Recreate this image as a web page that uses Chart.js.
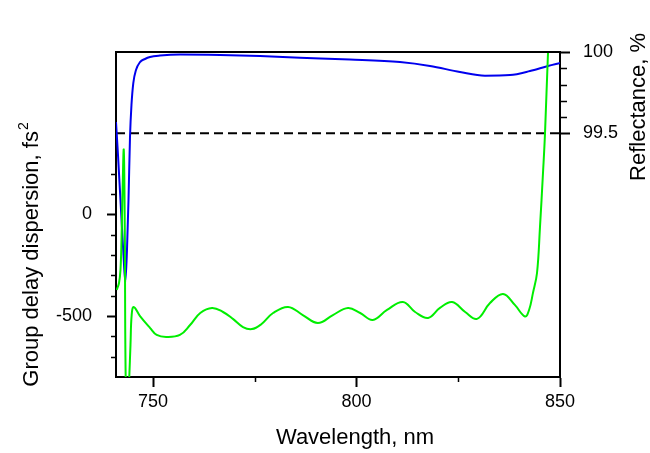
<!DOCTYPE html>
<html>
<head>
<meta charset="utf-8">
<script src="https://cdn.jsdelivr.net/npm/chart.js@4/dist/chart.umd.min.js"></script>
<style>
html,body{margin:0;padding:0;background:#fff;}
#wrap{width:650px;height:453px;}
</style>
</head>
<body>
<div id="wrap"><canvas id="c" width="650" height="453"></canvas></div>
<script>
// ---- data ----
const gddWavelength = [741.07, 741.64, 742.0, 742.25, 742.49, 742.81, 743.06, 743.28, 743.72, 744.16,
  744.46, 744.75, 745.25, 746.8, 749.3, 750.9, 753.2, 756.6, 759.1, 761.6,
  764.5, 767.2, 769.7, 772.1, 774.3, 776.6, 779.5, 783.2, 786.8, 790.5,
  794.2, 797.9, 800.9, 804.0, 807.5, 811.4, 814.4, 817.6, 820.5, 823.5,
  826.7, 829.6, 832.8, 836.0, 838.9, 841.4, 842.4, 843.36, 844.35, 845.08,
  845.82, 846.31, 847.05, 847.54];
const gddValues = [-372, -337, -273, -126, 96, 318, -76, -800, -1000, -800,
  -642, -495, -455, -500, -559, -593, -603, -593, -544, -485,
  -460, -480, -515, -554, -564, -540, -485, -455, -495, -534,
  -495, -460, -485, -519, -470, -431, -480, -509, -460, -431,
  -480, -514, -436, -391, -445, -502, -470, -386, -288, -62,
  204, 396, 795, 982];

const reflWavelength = [740.9, 741.39, 742.13, 742.74, 743.19, 743.6, 743.97, 744.34, 744.7, 745.15,
  745.81, 746.8, 748.02, 749.25, 751.71, 756.63, 766.45, 776.28, 786.11, 798.39,
  810.68, 818.05, 825.42, 831.56, 837.71, 842.63, 847.05, 850.0];
const reflValues = [99.569, 99.366, 99.028, 98.751, 98.585, 98.782, 99.089, 99.477, 99.674, 99.809,
  99.889, 99.938, 99.957, 99.969, 99.978, 99.985, 99.982, 99.975, 99.965, 99.954,
  99.938, 99.914, 99.877, 99.854, 99.858, 99.883, 99.914, 99.932];

const thresholdWavelength = [740.9, 850];
const thresholdValues = [99.5, 99.5];

const xRange = [740.9, 850];
const gddRange = [-800, 800];
const reflRange = [98, 100];

const xTickValues = [750, 775, 800, 825, 850];
const xTickLabels = ['750', '', '800', '', '850'];
const gddTickValues = [200, 100, 0, -100, -200, -300, -400, -500, -600, -700];
const gddTickLabels = ['', '', '0', '', '', '', '', '-500', '', ''];
const reflTickValues = [100, 99.9, 99.8, 99.7, 99.6, 99.5];
const reflTickLabels = ['100', '', '', '', '', '99.5'];

const xTitle = 'Wavelength, nm';
const gddTitleMain = 'Group delay dispersion, fs';
const gddTitleSup = '2';
const reflTitle = 'Reflectance, %';

// ---- helpers ----
const FONT = "'Liberation Sans', Arial, sans-serif";
const pts = (xs, ys) => xs.map((x, i) => ({x: x, y: ys[i]}));
const labelFor = (vals, labels) => (v) => {
  const i = vals.findIndex(t => Math.abs(t - v) < 1e-6);
  return i >= 0 ? labels[i] : '';
};
const isMajor = (vals, labels, v) => labelFor(vals, labels)(v) !== '';
const setTicks = (vals) => (scale) => { scale.ticks = vals.map(v => ({value: v})); };

const frameAndText = {
  id: 'frameAndText',
  afterDraw(chart) {
    const ctx = chart.ctx;
    const a = chart.chartArea;
    const sx = chart.scales.x, sy = chart.scales.y, sr = chart.scales.y2;
    ctx.save();
    ctx.strokeStyle = '#000';
    ctx.lineWidth = 2;
    ctx.beginPath();
    ctx.moveTo(a.left - 1, a.top);
    ctx.lineTo(a.right + 1, a.top);
    ctx.stroke();
    ctx.lineWidth = 1.5;
    ctx.beginPath();
    xTickValues.forEach((v, i) => {
      if (xTickLabels[i] === '') {
        const p = Math.round(sx.getPixelForValue(v)) + 0.5;
        ctx.moveTo(p, a.bottom); ctx.lineTo(p, a.bottom + 5);
      }
    });
    gddTickValues.forEach((v, i) => {
      if (gddTickLabels[i] === '') {
        const p = Math.round(sy.getPixelForValue(v)) + 0.5;
        ctx.moveTo(a.left, p); ctx.lineTo(a.left - 5, p);
      }
    });
    reflTickValues.forEach((v, i) => {
      if (reflTickLabels[i] === '') {
        const p = Math.round(sr.getPixelForValue(v)) + 0.5;
        ctx.moveTo(a.right, p); ctx.lineTo(a.right + 7, p);
      }
    });
    ctx.stroke();
    ctx.fillStyle = '#000';
    ctx.font = '22px ' + FONT;
    ctx.textBaseline = 'alphabetic';
    ctx.textAlign = 'center';
    ctx.fillText(xTitle, 355, 444);
    ctx.save();
    ctx.translate(38, 255);
    ctx.rotate(-Math.PI / 2);
    ctx.font = '22px ' + FONT;
    const wMain = ctx.measureText(gddTitleMain).width;
    ctx.font = '14px ' + FONT;
    const wSup = ctx.measureText(gddTitleSup).width;
    const start = -(wMain + wSup) / 2;
    ctx.textAlign = 'left';
    ctx.font = '22px ' + FONT;
    ctx.fillText(gddTitleMain, start, 0);
    ctx.font = '14px ' + FONT;
    ctx.fillText(gddTitleSup, start + wMain + 1, -10);
    ctx.restore();
    ctx.save();
    ctx.translate(645, 107);
    ctx.rotate(-Math.PI / 2);
    ctx.textAlign = 'center';
    ctx.font = '22px ' + FONT;
    ctx.fillText(reflTitle, 0, 0);
    ctx.restore();
    ctx.restore();
  }
};

new Chart(document.getElementById('c'), {
  type: 'line',
  data: {
    datasets: [
      {
        label: 'GDD',
        data: pts(gddWavelength, gddValues),
        yAxisID: 'y',
        borderColor: '#00ee00',
        borderWidth: 2,
        pointRadius: 0,
        tension: 0.4,
        clip: 0,
        order: 1
      },
      {
        label: 'Reflectance',
        data: pts(reflWavelength, reflValues),
        yAxisID: 'y2',
        borderColor: '#0000ee',
        borderWidth: 2,
        pointRadius: 0,
        cubicInterpolationMode: 'monotone',
        clip: 0,
        order: 2
      },
      {
        label: '99.5 %',
        data: pts(thresholdWavelength, thresholdValues),
        yAxisID: 'y2',
        borderColor: '#000',
        borderWidth: 2,
        borderDash: [9, 5],
        pointRadius: 0,
        clip: 0,
        order: 3
      }
    ]
  },
  options: {
    responsive: false,
    animation: false,
    devicePixelRatio: 1,
    layout: {padding: {top: 52, left: 0, right: 0, bottom: 0}},
    plugins: {legend: {display: false}, tooltip: {enabled: false}},
    scales: {
      x: {
        type: 'linear',
        position: 'bottom',
        min: xRange[0], max: xRange[1],
        afterBuildTicks: setTicks(xTickValues),
        afterFit: (s) => { s.height = 76; },
        ticks: {
          autoSkip: false, maxRotation: 0, padding: 4,
          color: '#000', font: {family: FONT, size: 18},
          callback: labelFor(xTickValues, xTickLabels)
        },
        grid: {
          drawOnChartArea: false, drawTicks: true, tickLength: 10, tickWidth: 2,
          tickColor: (c) => (c.tick && isMajor(xTickValues, xTickLabels, c.tick.value)) ? '#000' : 'rgba(0,0,0,0)'
        },
        border: {display: true, color: '#000', width: 2}
      },
      y: {
        type: 'linear',
        position: 'left',
        min: gddRange[0], max: gddRange[1],
        afterBuildTicks: setTicks(gddTickValues),
        afterFit: (s) => { s.width = 116; },
        ticks: {
          autoSkip: false, padding: 15,
          color: '#000', font: {family: FONT, size: 18},
          callback: labelFor(gddTickValues, gddTickLabels)
        },
        grid: {
          drawOnChartArea: false, drawTicks: true, tickLength: 9, tickWidth: 2,
          tickColor: (c) => (c.tick && isMajor(gddTickValues, gddTickLabels, c.tick.value)) ? '#000' : 'rgba(0,0,0,0)'
        },
        border: {display: true, color: '#000', width: 2}
      },
      y2: {
        type: 'linear',
        position: 'right',
        min: reflRange[0], max: reflRange[1],
        afterBuildTicks: setTicks(reflTickValues),
        afterFit: (s) => { s.width = 90; },
        ticks: {
          autoSkip: false, padding: 13,
          color: '#000', font: {family: FONT, size: 18},
          callback: labelFor(reflTickValues, reflTickLabels)
        },
        grid: {
          drawOnChartArea: false, drawTicks: true, tickLength: 10, tickWidth: 2,
          tickColor: (c) => (c.tick && isMajor(reflTickValues, reflTickLabels, c.tick.value)) ? '#000' : 'rgba(0,0,0,0)'
        },
        border: {display: true, color: '#000', width: 2}
      }
    }
  },
  plugins: [frameAndText]
});
</script>
</body>
</html>
